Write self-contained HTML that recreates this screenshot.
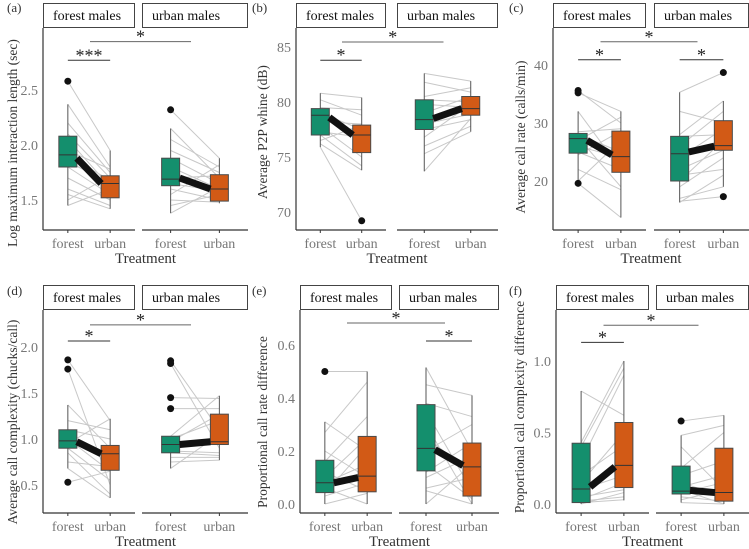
<!DOCTYPE html>
<html><head><meta charset="utf-8"><style>
html,body{margin:0;padding:0;background:#fff;width:749px;height:549px;overflow:hidden}
svg{display:block;font-family:"Liberation Serif",serif}
</style></head><body>
<svg id="chart" width="749" height="549" viewBox="0 0 749 549"></svg>
<script>
// ---- data (box = [lowWhisker, q1, median, q3, highWhisker]) ----
const groups = ["forest males","urban males"];
const treatments = ["forest","urban"];

const aTicks = [1.5,2.0,2.5];
const aBoxes = [[[1.45,1.80,1.91,2.08,2.37],[1.42,1.52,1.65,1.72,1.95]],[[1.38,1.63,1.69,1.88,2.15],[1.47,1.49,1.60,1.73,1.88]]];
const aOutliers = [[[2.58],[]],[[2.32],[]]];
const aTrend = [[1.88,1.65],[1.70,1.60]];
const aPairs = [[[2.58,1.95],[2.37,1.80],[2.2,1.75],[2.1,1.7],[2.05,1.62],[1.95,1.78],[1.9,1.68],[1.85,1.65],[1.8,1.55],[1.7,1.5],[1.6,1.45],[1.55,1.42],[1.5,1.72],[1.45,1.6]],
 [[2.32,1.88],[2.15,1.7],[2.05,1.8],[1.95,1.75],[1.88,1.65],[1.8,1.6],[1.75,1.55],[1.7,1.72],[1.65,1.58],[1.6,1.5],[1.55,1.82],[1.5,1.48],[1.45,1.55],[1.38,1.62]]];
const aSig = [["within0",2.77,"***"],["between",2.94,"*"]];

const bTicks = [70,75,80,85];
const bBoxes = [[[75.9,77.0,78.8,79.4,80.8],[73.8,75.4,77.0,77.9,80.4]],[[73.7,77.5,78.4,80.2,82.6],[77.3,78.8,79.4,80.5,81.9]]];
const bOutliers = [[[],[69.2]],[[],[]]];
const bTrend = [[78.6,77.0],[78.5,79.4]];
const bPairs = [[[80.8,80.4],[80.2,78.8],[79.5,79.3],[79.0,77.5],[78.7,76.5],[78.2,78.0],[77.8,75.0],[77.3,76.8],[77.0,74.2],[76.5,77.9],[76.2,73.8],[75.9,69.2]],
 [[82.6,81.9],[81.8,80.9],[80.5,81.3],[80.2,80.0],[79.8,79.5],[79.0,80.5],[78.5,79.2],[78.0,78.9],[77.5,78.4],[76.8,79.8],[76.0,77.8],[75.3,77.3],[73.7,78.5]]];
const bSig = [["within0",83.8,"*"],["between",85.45,"*"]];

const cTicks = [20,30,40];
const cBoxes = [[[20,24.8,27.3,28.2,32],[13.7,21.5,24.2,28.6,32]],[[16.3,20,24.7,27.7,35.3],[19,25.3,26.1,30.4,33.8]]];
const cOutliers = [[[35.6,35.2,19.6],[]],[[],[38.7,17.3]]];
const cTrend = [[27,24.5],[25,26]];
const cPairs = [[[35.6,30],[35.2,32],[32,22],[28.5,29],[28,25],[27.5,19],[27,31],[26,24],[25,22],[24.5,28.6],[22,18.5],[20,27],[19.6,13.7]],
 [[35.3,38.7],[32,30],[28,33.8],[27.7,28],[26,32],[25,26],[24,29],[22,25.3],[21,22],[20,27],[19,24],[17,19],[16.3,21],[16.5,17.3]]];
const cSig = [["within0",40.9,"*"],["within1",40.9,"*"],["between",44,"*"]];

const dTicks = [0.5,1.0,1.5,2.0];
const dBoxes = [[[0.68,0.90,0.98,1.10,1.37],[0.36,0.66,0.84,0.93,1.22]],[[0.68,0.85,0.94,1.03,1.03],[0.77,0.94,0.97,1.27,1.47]]];
const dOutliers = [[[1.86,1.76,0.53],[]],[[1.85,1.82,1.45,1.33],[]]];
const dTrend = [[0.97,0.84],[0.94,0.97]];
const dPairs = [[[1.86,1.2],[1.76,0.5],[1.37,0.9],[1.2,1.1],[1.1,1.0],[1.05,0.8],[1.0,0.65],[0.95,1.22],[0.9,0.55],[0.85,0.4],[0.75,0.7],[0.68,0.36],[0.53,0.65]],
 [[1.85,1.1],[1.82,0.9],[1.45,1.44],[1.33,1.33],[1.03,1.47],[1.0,1.2],[0.97,1.27],[0.94,0.95],[0.9,1.0],[0.87,0.85],[0.85,0.82],[0.8,0.8],[0.75,0.77],[0.68,1.05]]];
const dSig = [["within0",2.065,"*"],["between",2.24,"*"]];

const eTicks = [0.0,0.2,0.4,0.6];
const eBoxes = [[[0,0.043,0.08,0.165,0.31],[0,0.046,0.105,0.255,0.5]],[[0,0.125,0.21,0.375,0.515],[0,0.03,0.14,0.23,0.41]]];
const eOutliers = [[[0.5],[]],[[],[]]];
const eTrend = [[0.08,0.10],[0.205,0.145]];
const ePairs = [[[0.5,0.5],[0.31,0.2],[0.27,0.46],[0.2,0.1],[0.16,0.33],[0.12,0.05],[0.1,0.25],[0.08,0.15],[0.06,0.0],[0.04,0.22],[0.03,0.08],[0.0,0.04]],
 [[0.515,0.2],[0.45,0.41],[0.38,0.33],[0.35,0.05],[0.3,0.0],[0.25,0.12],[0.2,0.3],[0.15,0.02],[0.12,0.23],[0.1,0.18],[0.06,0.1],[0.05,0.0],[0.0,0.15]]];
const eSig = [["within1",0.615,"*"],["between",0.683,"*"]];

const fTicks = [0.0,0.5,1.0];
const fBoxes = [[[0,0.01,0.105,0.425,0.79],[0.025,0.115,0.27,0.57,1.0]],[[0.01,0.07,0.09,0.265,0.48],[0,0.02,0.08,0.39,0.62]]];
const fOutliers = [[[],[]],[[0.58],[]]];
const fTrend = [[0.12,0.26],[0.095,0.08]];
const fPairs = [[[0.79,0.62],[0.43,1.0],[0.4,0.95],[0.3,0.9],[0.2,0.41],[0.15,0.5],[0.1,0.2],[0.05,0.1],[0.03,0.15],[0.02,0.05],[0.01,0.03],[0.0,0.08]],
 [[0.58,0.62],[0.48,0.55],[0.4,0.1],[0.25,0.5],[0.2,0.3],[0.15,0.05],[0.12,0.2],[0.1,0.0],[0.08,0.15],[0.05,0.02],[0.03,0.1],[0.01,0.0]]];
const fSig = [["within0",1.13,"*"],["between",1.25,"*"]];

// ---- layout ----
const panels = [
 {id:"a",ticks:aTicks,boxes:aBoxes,out:aOutliers,trend:aTrend,pairs:aPairs,sig:aSig,title:"Log maximum interaction length (sec)",dec:1,
  top:3,bottom:230,x0:43,f1:[43,135],f2:[142,248],cal:[2.0,145,2.5,90],ly:7,lx:7,tx:12,cy:143},
 {id:"b",ticks:bTicks,boxes:bBoxes,out:bOutliers,trend:bTrend,pairs:bPairs,sig:bSig,title:"Average P2P whine (dB)",dec:0,
  top:3,bottom:230,x0:296,f1:[296,386],f2:[397,498],cal:[80,102,85,47],ly:7,lx:252,tx:262,cy:132},
 {id:"c",ticks:cTicks,boxes:cBoxes,out:cOutliers,trend:cTrend,pairs:cPairs,sig:cSig,title:"Average call rate (calls/min)",dec:0,
  top:3,bottom:230,x0:553,f1:[553,646],f2:[654,749],cal:[30,123,40,65],ly:7,lx:509,tx:520,cy:137},
 {id:"d",ticks:dTicks,boxes:dBoxes,out:dOutliers,trend:dTrend,pairs:dPairs,sig:dSig,title:"Average call complexity (chucks/call)",dec:1,
  top:285,bottom:513,x0:43,f1:[43,135],f2:[142,248],cal:[1.0,439,2.0,347],ly:290,lx:7,tx:12,cy:422},
 {id:"e",ticks:eTicks,boxes:eBoxes,out:eOutliers,trend:eTrend,pairs:ePairs,sig:eSig,title:"Proportional call rate difference",dec:1,
  top:285,bottom:513,x0:300,f1:[300,392],f2:[399,499],cal:[0.0,504,0.6,345],ly:290,lx:252,tx:262,cy:422},
 {id:"f",ticks:fTicks,boxes:fBoxes,out:fOutliers,trend:fTrend,pairs:fPairs,sig:fSig,title:"Proportional call complexity difference",dec:1,
  top:285,bottom:513,x0:556,f1:[556,649],f2:[656,749],cal:[0.0,504,1.0,361],ly:290,lx:509,tx:519,cy:407}
];
const NS="http://www.w3.org/2000/svg";
const svg=document.getElementById("chart");
function mk(tag,attrs,parent,text){const e=document.createElementNS(NS,tag);for(const k in attrs)e.setAttribute(k,attrs[k]);if(text!==undefined)e.textContent=text;(parent||svg).appendChild(e);return e;}
const COL=["#148f6d","#d25a16"];

panels.forEach(p=>{
  const g=mk("g",{});
  
  
  const [v0,y0,v1,y1]=p.cal;
  const Y=v=>y0+(v-v0)*(y1-y0)/(v1-v0);
  const facets=[p.f1,p.f2];
  const stripH=24;
  const X=(fi,ti)=>{const f=facets[fi];const w=f[1]-f[0];return f[0]+w*(ti===0?0.27:0.73);};
  const pl=mk("text",{x:p.lx,y:p.ly+5,"font-size":13,fill:"#333"},g,"("+p.id+")");
  
  
  facets.forEach((f,fi)=>{
    const r=mk("rect",{x:f[0]+0.5,y:p.top+0.5,width:f[1]-f[0]-1,height:stripH,fill:"#fff",stroke:"#444","stroke-width":1},g);
    
    
    const t=mk("text",{x:f[0]+10,y:p.top+17,"font-size":14,fill:"#111"},g,groups[fi]);
    
    
  });
  const pt=p.top+stripH+1;
  const ya=mk("line",{x1:p.x0,y1:pt,x2:p.x0,y2:p.bottom,stroke:"#333","stroke-width":1.2},g);
  
  
  facets.forEach(f=>{
    const xa=mk("line",{x1:f[0],y1:p.bottom,x2:f[1],y2:p.bottom,stroke:"#333","stroke-width":1.2},g);
    
    
  });
  p.ticks.forEach(v=>{
    const t=mk("text",{x:p.x0-5,y:Y(v)+5,"font-size":14,fill:"#777","text-anchor":"end"},g,v.toFixed(p.dec));
    
    
  });
  facets.forEach((f,fi)=>treatments.forEach((tr,ti)=>{
    mk("line",{x1:X(fi,ti),y1:p.bottom,x2:X(fi,ti),y2:p.bottom+3,stroke:"#333"},g);
    const t=mk("text",{x:X(fi,ti),y:p.bottom+18,"font-size":14,fill:"#777","text-anchor":"middle"},g,tr);
    
    
  }));
  const xt=mk("text",{x:(p.f1[0]+p.f2[1])/2,y:p.bottom+33,"font-size":15,fill:"#333","text-anchor":"middle"},g,"Treatment");
  
  
  const cy=p.cy;
  const yt=mk("text",{x:p.tx,y:cy,"font-size":13.5,fill:"#333","text-anchor":"middle",transform:`rotate(-90 ${p.tx} ${cy})`,dy:5},g,p.title);
  
  
  p.pairs.forEach((arr,fi)=>arr.forEach(pr=>{
    const l=mk("line",{x1:X(fi,0),y1:Y(pr[0]),x2:X(fi,1),y2:Y(pr[1]),stroke:"#c8c8c8","stroke-width":1},g);
    
    
  }));
  const bw=18;
  p.boxes.forEach((fb,fi)=>fb.forEach((b,ti)=>{
    const x=X(fi,ti);
    const w=mk("line",{x1:x,y1:Y(b[0]),x2:x,y2:Y(b[4]),stroke:"#555","stroke-width":1},g);
    
    
    const r=mk("rect",{x:x-bw/2,y:Y(b[3]),width:bw,height:Y(b[1])-Y(b[3]),fill:COL[ti],stroke:"#4a4a4a","stroke-width":1},g);
    
    
    const m=mk("line",{x1:x-bw/2,y1:Y(b[2]),x2:x+bw/2,y2:Y(b[2]),stroke:"#333","stroke-width":1},g);
    
    
  }));
  p.trend.forEach((tr,fi)=>{
    const l=mk("line",{x1:X(fi,0)+bw/2,y1:Y(tr[0]),x2:X(fi,1)-bw/2,y2:Y(tr[1]),stroke:"#111","stroke-width":7},g);
    
    
  });
  p.out.forEach((fo,fi)=>fo.forEach((arr,ti)=>arr.forEach(v=>{
    const c=mk("circle",{cx:X(fi,ti),cy:Y(v),r:3.5,fill:"#111"},g);
    
    
  })));
  p.sig.forEach(s=>{
    let xa,xb;
    if(s[0]==="between"){xa=(p.f1[0]+p.f1[1])/2+1;xb=(p.f2[0]+p.f2[1])/2-4;}
    else{const fi=s[0]==="within0"?0:1;xa=X(fi,0);xb=X(fi,1);}
    const y=Y(s[1]);
    const l=mk("line",{x1:xa,y1:y,x2:xb,y2:y,stroke:s[0]==="between"?"#666":"#333","stroke-width":1},g);
    
    
    const t=mk("text",{x:(xa+xb)/2,y:y+1,"font-size":18,fill:"#222","text-anchor":"middle"},g,s[2]);
    
    
  });
});
</script>
</body></html>
